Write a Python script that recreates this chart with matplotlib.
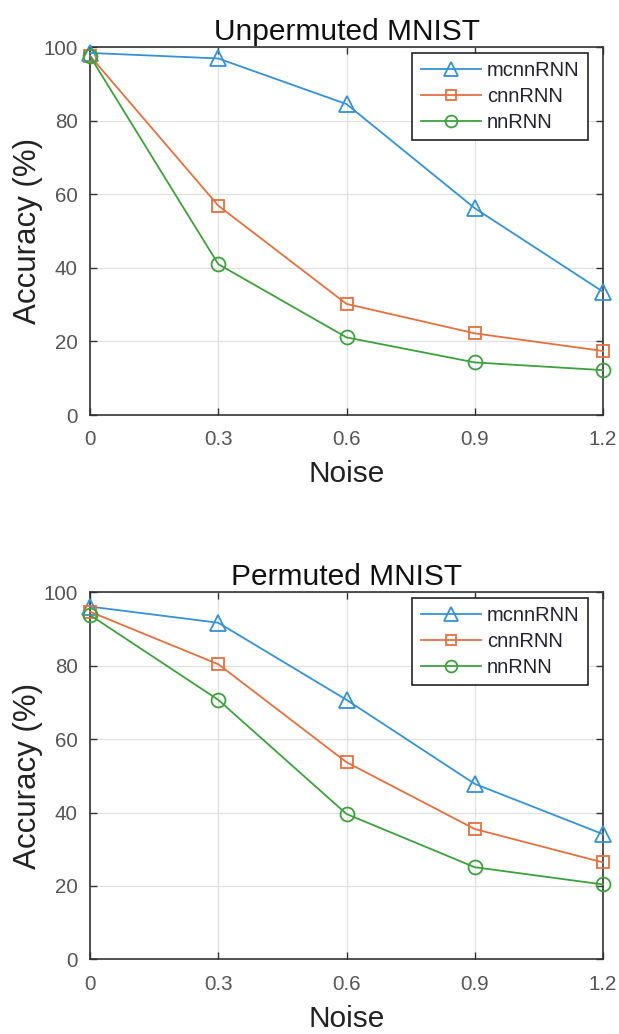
"""
Figure: accuracy vs noise, unpermuted / permuted MNIST
"""
import matplotlib
matplotlib.use("Agg")
import matplotlib.pyplot as plt

# --------------------------------------------------------------------------------
# data
# --------------------------------------------------------------------------------
NOISE = [0, 0.3, 0.6, 0.9, 1.2]
SERIES_NAMES = ["mcnnRNN", "cnnRNN", "nnRNN"]

UNPERM_MCNN = [98.4, 96.9, 84.5, 56.2, 33.5]
UNPERM_CNN = [97.6, 56.9, 30.2, 22.2, 17.4]
UNPERM_NN = [97.5, 41.0, 21.1, 14.3, 12.2]

PERM_MCNN = [96.1, 91.7, 70.7, 47.8, 34.1]
PERM_CNN = [94.7, 80.4, 53.7, 35.5, 26.4]
PERM_NN = [93.8, 70.7, 39.6, 25.1, 20.4]

X_TICKS = [0, 0.3, 0.6, 0.9, 1.2]
X_TICK_LABELS = ["0", "0.3", "0.6", "0.9", "1.2"]
Y_TICKS = [0, 20, 40, 60, 80, 100]

# plot
COLOR_LIST = ["#3592D4", "#E5703F", "#3DA13D"]
MARKER_LIST = ["^", "s", "o"]
MARKER_SIZE = [12, 8, 10]
PLOT_DPI = 100

plt.rcParams["font.family"] = ["Liberation Sans", "DejaVu Sans"]


def draw_panel(ax, title, series):
    ax.grid(color="#e0e0e0", linestyle="-", linewidth=0.9)
    ax.set_axisbelow(True)
    for i, ys in enumerate(series):
        ax.plot(NOISE, ys, color=COLOR_LIST[i], linewidth=1.3, marker=MARKER_LIST[i],
                markersize=MARKER_SIZE[i], markerfacecolor="none",
                markeredgecolor=COLOR_LIST[i], markeredgewidth=1.3,
                label=SERIES_NAMES[i], clip_on=False, zorder=3)
    ax.set_xlim(0, 1.2)
    ax.set_ylim(0, 100)
    ax.set_xticks(X_TICKS)
    ax.set_xticklabels(X_TICK_LABELS)
    ax.set_yticks(Y_TICKS)
    ax.tick_params(axis="both", direction="in", which="major", labelsize=14.8,
                   top=True, right=True, length=5, width=1.0,
                   color="#333333", labelcolor="#555555")
    ax.tick_params(axis="x", pad=11)
    ax.tick_params(axis="y", pad=9)
    for sp in ax.spines.values():
        sp.set_color("#333333")
        sp.set_linewidth(1.2)
    ax.set_title(title, fontsize=21.5, pad=5, color="#111111")
    ax.set_xlabel("Noise", fontsize=21.5, color="#222222", labelpad=8)
    ax.set_ylabel("Accuracy (%)", fontsize=22.5, color="#222222", labelpad=0)
    leg = ax.legend(loc="upper right", fontsize=14.5, frameon=True, fancybox=False,
                    bbox_to_anchor=(0.97, 0.985), borderaxespad=0.0,
                    handlelength=3.0, handletextpad=0.3, markerscale=0.85,
                    labelspacing=0.35, borderpad=0.4, framealpha=1)
    leg.get_frame().set_edgecolor("#222222")
    leg.get_frame().set_linewidth(1.2)
    for t in leg.get_texts():
        t.set_color("#222233")


fig = plt.figure(figsize=(6.19, 10.34), dpi=PLOT_DPI, facecolor="w")
ax1 = fig.add_axes([0.1454, 0.5986, 0.8288, 0.3559])
ax2 = fig.add_axes([0.1454, 0.0722, 0.8288, 0.3550])

draw_panel(ax1, "Unpermuted MNIST", [UNPERM_MCNN, UNPERM_CNN, UNPERM_NN])
draw_panel(ax2, "Permuted MNIST", [PERM_MCNN, PERM_CNN, PERM_NN])

fig.savefig("out.png", dpi=PLOT_DPI)
plt.close(fig)
